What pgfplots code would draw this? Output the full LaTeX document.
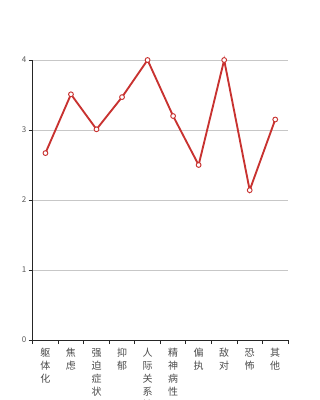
\documentclass[border=0pt]{standalone}
\usepackage{fontspec}
\usepackage{pgfplots}
\pgfplotsset{compat=1.18}
\newfontfamily\cjk{Noto Sans CJK SC}
\definecolor{linered}{RGB}{200,50,48}
\begin{document}
\begin{tikzpicture}[x=1pt,y=1pt]
\path[use as bounding box, clip] (0,0) rectangle (240,300);
\begin{axis}[
  at={(24.5pt,45pt)}, anchor=south west, scale only axis,
  width=191.5pt, height=210pt,
  xmin=0, xmax=10, ymin=0, ymax=4,
  axis x line=bottom, axis y line=left,
  axis line style={-, draw=black!85, line width=0.7pt},
  tick align=outside,
  xtick={0.5,1.5,2.5,3.5,4.5,5.5,6.5,7.5,8.5,9.5},
  xticklabels={{躯\\体\\化},{焦\\虑},{强\\迫\\症\\状},{抑\\郁},{人\\际\\关\\系\\敏\\感},{精\\神\\病\\性},{偏\\执},{敌\\对},{恐\\怖},{其\\他}},
  major x tick style={draw=none},
  minor xtick={0,1,2,3,4,5,6,7,8,9,10},
  minor x tick style={draw=black!85, line width=0.6pt},
  minor tick length=3pt,
  xticklabel style={align=center, font=\cjk\fontsize{7.5}{9.75}\selectfont, text=black!70, anchor=north, inner sep=1pt, yshift=-2pt},
  ytick={0,1,2,3,4},
  major y tick style={draw=black!85, line width=0.6pt},
  major tick length=3pt,
  yticklabel style={font=\cjk\fontsize{6}{7}\selectfont, text=black!65, inner sep=1.5pt},
  /pgf/number format/assume math mode=true,
  ymajorgrids, grid style={draw=black!22, line width=0.6pt},
  clip=false,
]
\addplot[draw=linered, line width=1.4pt, mark=*, mark size=1.8pt,
  mark options={draw=linered, fill=white, line width=0.7pt}]
  coordinates {(0.5,2.67) (1.5,3.51) (2.5,3.01) (3.5,3.47) (4.5,4.00) (5.5,3.20) (6.5,2.50) (7.5,4.00) (8.5,2.14) (9.5,3.15)};
\end{axis}
\end{tikzpicture}
\end{document}
